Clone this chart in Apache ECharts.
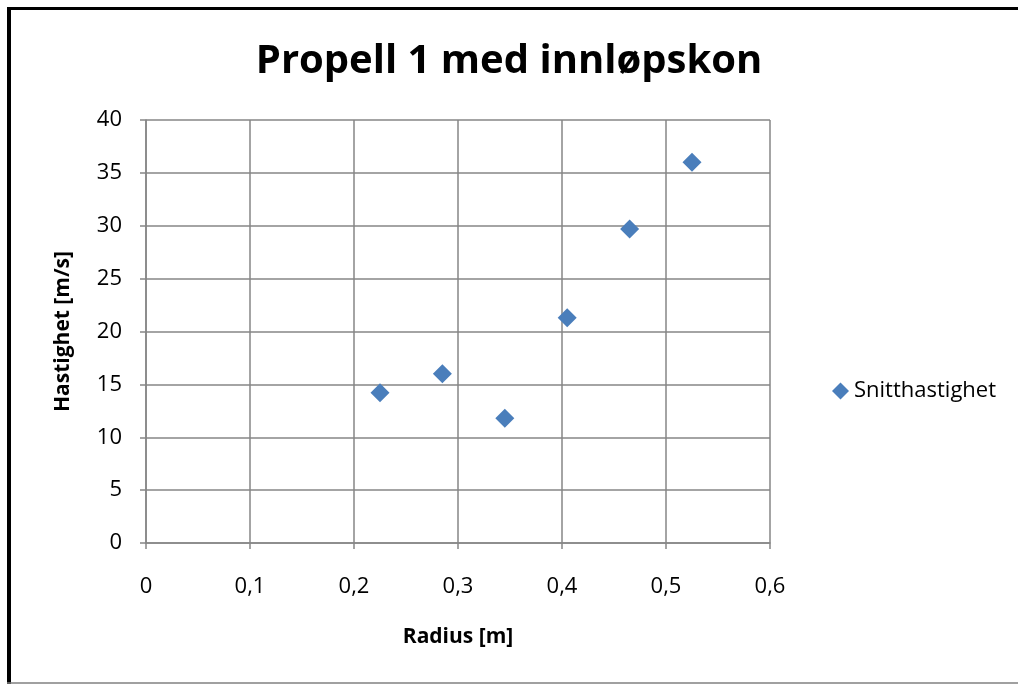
<!DOCTYPE html>
<html>
<head>
<meta charset="utf-8">
<script src="https://cdn.jsdelivr.net/npm/echarts@6/dist/echarts.min.js"></script>
<style>
  html, body { margin: 0; padding: 0; background: #fff; }
  #main { width: 1018px; height: 684px; }
</style>
</head>
<body>
<div id="main"></div>
<script>
// radius [m] and mean velocity [m/s]
const radius = [0.225, 0.285, 0.345, 0.405, 0.465, 0.525];
const speed = [14.2, 16.0, 11.8, 21.3, 29.7, 36.0];
const seriesName = 'Snitthastighet';

const font = 'Open Sans';
const gridColor = '#868686';

const chart = echarts.init(document.getElementById('main'));

const option = {
  backgroundColor: '#ffffff',
  animation: false,
  title: {
    text: 'Propell 1 med innløpskon',
    left: 'center',
    top: 37,
    textStyle: { fontFamily: font, fontSize: 40, fontWeight: 'bold', color: '#000' }
  },
  legend: {
    data: [seriesName],
    left: 827,
    top: 375,
    icon: 'diamond',
    itemWidth: 17,
    itemHeight: 17,
    itemGap: 4,
    textStyle: { fontFamily: font, fontSize: 22, color: '#000' }
  },
  grid: { left: 146, right: 248, top: 120, bottom: 141 },
  xAxis: {
    type: 'value',
    min: 0,
    max: 0.6,
    interval: 0.1,
    name: 'Radius [m]',
    nameLocation: 'middle',
    nameGap: 84,
    nameTextStyle: { fontFamily: font, fontSize: 21, fontWeight: 'bold', color: '#000' },
    axisLine: { show: true, lineStyle: { color: gridColor, width: 1.5 } },
    axisTick: { show: true, length: 6, lineStyle: { color: gridColor, width: 1.5 } },
    axisLabel: {
      fontFamily: font, fontSize: 22, color: '#000', margin: 33,
      formatter: v => v.toFixed(1).replace('.', ',').replace(/^0,0$/, '0')
    },
    splitLine: { show: true, lineStyle: { color: gridColor, width: 1.5 } }
  },
  yAxis: {
    type: 'value',
    min: 0,
    max: 40,
    interval: 5,
    name: 'Hastighet [m/s]',
    nameLocation: 'middle',
    nameGap: 72,
    nameTextStyle: { fontFamily: font, fontSize: 21, fontWeight: 'bold', color: '#000' },
    axisLine: { show: true, lineStyle: { color: gridColor, width: 1.5 } },
    axisTick: { show: true, length: 6, lineStyle: { color: gridColor, width: 1.5 } },
    axisLabel: { fontFamily: font, fontSize: 22, color: '#000', margin: 24 },
    splitLine: { show: true, lineStyle: { color: gridColor, width: 1.5 } }
  },
  series: [
    {
      name: seriesName,
      type: 'scatter',
      symbol: 'diamond',
      symbolSize: 19,
      itemStyle: { color: '#4a7ebb', opacity: 1 },
      data: radius.map((r, i) => [r, speed[i]])
    }
  ],
  graphic: [
    // chart frame
    { type: 'line', shape: { x1: 7, y1: 8.5, x2: 1018, y2: 8.5 }, style: { stroke: '#000', lineWidth: 3 } },
    { type: 'line', shape: { x1: 9, y1: 7, x2: 9, y2: 684 }, style: { stroke: '#000', lineWidth: 4 } },
    { type: 'line', shape: { x1: 7, y1: 683, x2: 1018, y2: 683 }, style: { stroke: '#808080', lineWidth: 1.5 } }
  ]
};

chart.setOption(option);
</script>
</body>
</html>
